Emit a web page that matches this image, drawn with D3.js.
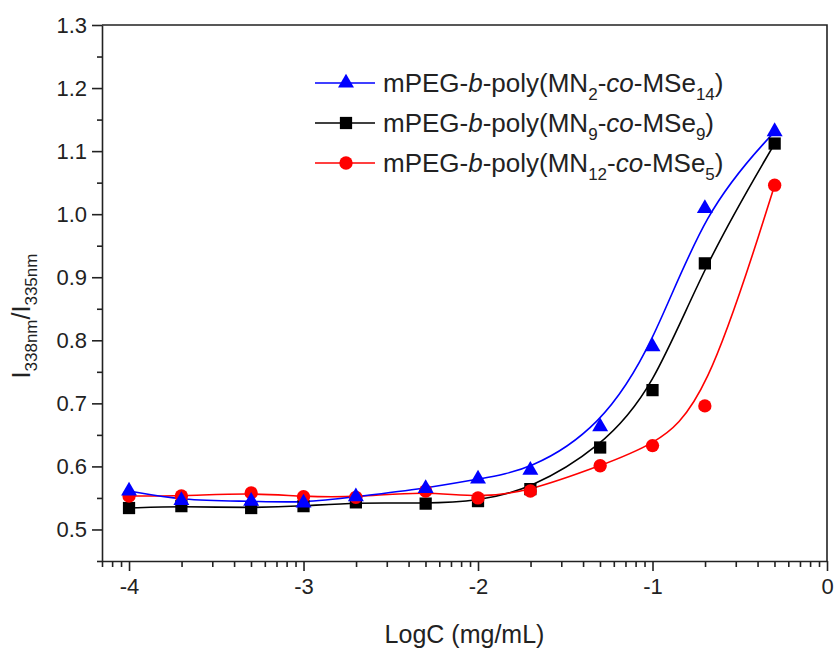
<!DOCTYPE html>
<html>
<head>
<meta charset="utf-8">
<script src="https://cdn.jsdelivr.net/npm/d3@7"></script>
<style>
  body { margin: 0; background: #fff; }
  svg { font-family: "Liberation Sans", Arial, sans-serif; }
  .axis path, .axis line { stroke: #222; stroke-width: 1.6; }
  .axis text { font-size: 22px; fill: #222; }
</style>
</head>
<body>
<div id="chart"></div>
<script>

// LogC (mg/mL)
var logC = [-4, -3.7, -3.3, -3, -2.7, -2.3, -2, -1.7, -1.3, -1, -0.7, -0.3];

// I338nm / I335nm for each copolymer
var mn2  = [0.561, 0.546, 0.545, 0.542, 0.552, 0.565, 0.580, 0.594, 0.663, 0.790, 1.009, 1.131];
var mn9  = [0.534, 0.537, 0.534, 0.537, 0.543, 0.541, 0.545, 0.564, 0.630, 0.721, 0.922, 1.112];
var mn12 = [0.553, 0.553, 0.558, 0.552, 0.551, 0.561, 0.550, 0.561, 0.601, 0.633, 0.696, 1.046];

var xTicks = [-4, -3, -2, -1, 0];
var yTicks = [0.5, 0.6, 0.7, 0.8, 0.9, 1.0, 1.1, 1.2, 1.3];

// drawing order: black, red, then blue on top
var series = [
  {subs: ["9", "9"],  values: mn9,  color: "#000000", symbol: d3.symbolSquare,   size: 150},
  {subs: ["12", "5"], values: mn12, color: "#ff0000", symbol: d3.symbolCircle,   size: 140},
  {subs: ["2", "14"], values: mn2,  color: "#0000ff", symbol: d3.symbolTriangle, size: 110}
];

var legendOrder = [series[2], series[0], series[1]];

var margin = {top: 25, right: 8, bottom: 90, left: 102},
    width = 835 - margin.left - margin.right,
    height = 651 - margin.top - margin.bottom;

var x = d3.scaleLinear()
    .domain([Math.log10(7e-5), 0])
    .range([0, width]);

var y = d3.scaleLinear()
    .domain([0.45, 1.3])
    .range([height, 0]);

var svg = d3.select("#chart").append("svg")
    .attr("width", 835)
    .attr("height", 651)
  .append("g")
    .attr("transform", "translate(" + margin.left + "," + margin.top + ")");

// minor ticks: log positions on x, 0.05 steps on y
var xMinor = [];
for (var n = -5; n < 0; n++) {
  for (var k = 2; k <= 9; k++) {
    var v = n + Math.log10(k);
    if (v >= x.domain()[0] - 1e-6 && v <= 0) xMinor.push(v);
  }
}
var yMinor = d3.range(0.45, 1.3, 0.1);

svg.append("g")
    .attr("class", "axis")
    .attr("transform", "translate(0," + height + ")")
    .call(d3.axisBottom(x).tickValues(xMinor).tickSize(6).tickFormat(""))
    .select(".domain").remove();

svg.append("g")
    .attr("class", "axis")
    .call(d3.axisLeft(y).tickValues(yMinor).tickSize(5).tickFormat(""))
    .select(".domain").remove();

svg.append("g")
    .attr("class", "axis")
    .attr("transform", "translate(0," + height + ")")
    .call(d3.axisBottom(x).tickValues(xTicks).tickSize(10).tickSizeOuter(0).tickPadding(7)
      .tickFormat(function(d) { return String(d); }));

svg.append("g")
    .attr("class", "axis")
    .call(d3.axisLeft(y).tickValues(yTicks).tickSize(10).tickSizeOuter(0).tickPadding(5).tickFormat(d3.format(".1f")));

// top and right frame
svg.append("path")
    .attr("d", "M0,0H" + width + "V" + height)
    .attr("fill", "none")
    .attr("stroke", "#222")
    .attr("stroke-width", 1.6);

var line = d3.line()
    .x(function(d, i) { return x(logC[i]); })
    .y(function(d) { return y(d); })
    .curve(d3.curveBasis);

svg.selectAll(".curve")
    .data(series)
  .enter().append("path")
    .attr("class", "curve")
    .attr("d", function(d) { return line(d.values); })
    .attr("fill", "none")
    .attr("stroke", function(d) { return d.color; })
    .attr("stroke-width", 1.6);

series.forEach(function(s) {
  svg.append("g").selectAll("path")
      .data(s.values)
    .enter().append("path")
      .attr("transform", function(d, i) { return "translate(" + x(logC[i]) + "," + y(d) + ")"; })
      .attr("d", d3.symbol().type(s.symbol).size(s.size))
      .attr("fill", s.color);
});

// legend
var legend = svg.append("g")
    .attr("transform", "translate(" + (315 - margin.left) + "," + (83 - margin.top) + ")");

var row = legend.selectAll(".row")
    .data(legendOrder)
  .enter().append("g")
    .attr("class", "row")
    .attr("transform", function(d, i) { return "translate(0," + i * 40 + ")"; });

row.append("line")
    .attr("x1", 0).attr("x2", 60)
    .attr("stroke", function(d) { return d.color; })
    .attr("stroke-width", 1.6);

row.append("path")
    .attr("transform", "translate(31,0)")
    .attr("d", function(d) { return d3.symbol().type(d.symbol).size(d.size)(); })
    .attr("fill", function(d) { return d.color; });

var label = row.append("text")
    .attr("x", 68)
    .attr("y", 9)
    .style("font-size", "26px")
    .attr("fill", "#222");

label.each(function(d) {
  var t = d3.select(this);
  t.append("tspan").text("mPEG-");
  t.append("tspan").style("font-style", "italic").text("b");
  t.append("tspan").text("-poly(MN");
  t.append("tspan").attr("dy", 8).style("font-size", "17px").text(d.subs[0]);
  t.append("tspan").attr("dy", -8).text("-");
  t.append("tspan").style("font-style", "italic").text("co");
  t.append("tspan").text("-MSe");
  t.append("tspan").attr("dy", 8).style("font-size", "17px").text(d.subs[1]);
  t.append("tspan").attr("dy", -8).text(")");
});

// axis titles
svg.append("text")
    .attr("x", width / 2)
    .attr("y", height + 82)
    .style("text-anchor", "middle")
    .style("font-size", "25px")
    .attr("fill", "#222")
    .text("LogC (mg/mL)");

var yl = svg.append("text")
    .attr("transform", "translate(" + (30 - margin.left) + "," + (316 - margin.top) + ") rotate(-90)")
    .style("text-anchor", "middle")
    .style("font-size", "25px")
    .attr("fill", "#222");
yl.append("tspan").text("I");
yl.append("tspan").attr("dy", 7).style("font-size", "17px").text("338nm");
yl.append("tspan").attr("dy", -7).text("/I");
yl.append("tspan").attr("dy", 7).style("font-size", "17px").text("335nm");

</script>
</body>
</html>
